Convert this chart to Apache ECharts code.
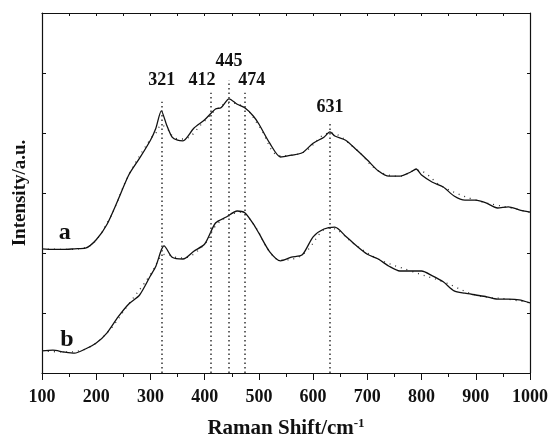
<!DOCTYPE html>
<html>
<head>
<meta charset="utf-8">
<script src="https://cdn.jsdelivr.net/npm/echarts@6/dist/echarts.min.js"></script>
<style>html,body{margin:0;padding:0;background:#fff}#c{width:550px;height:438px}</style>
</head>
<body>
<div id="c"></div>
<script>
// Raman shift (cm^-1) and intensity (a.u.)
const curveA = [[100,2.07],[120,2.06],[140,2.06],[160,2.07],[180,2.08],[200,2.22],[220,2.48],[240,2.88],[260,3.30],[280,3.58],[300,3.88],[310,4.08],[320,4.37],[330,4.13],[340,3.93],[350,3.88],[360,3.87],[380,4.08],[400,4.22],[420,4.40],[430,4.42],[445,4.57],[460,4.48],[474,4.42],[490,4.28],[500,4.15],[520,3.83],[540,3.60],[560,3.63],[580,3.67],[600,3.83],[620,3.93],[631,4.02],[640,3.95],[660,3.88],[680,3.72],[700,3.55],[720,3.37],[740,3.28],[760,3.28],[780,3.35],[790,3.40],[800,3.30],[820,3.18],[840,3.10],[860,2.95],[880,2.88],[900,2.88],[920,2.83],[940,2.75],[960,2.77],[980,2.72],[1000,2.68]];
const curveB = [[100,0.37],[120,0.38],[140,0.35],[160,0.33],[180,0.40],[200,0.50],[220,0.67],[240,0.93],[260,1.15],[280,1.30],[300,1.62],[310,1.78],[320,2.05],[325,2.12],[340,1.93],[360,1.90],[380,2.03],[400,2.15],[420,2.50],[440,2.60],[460,2.70],[474,2.67],[490,2.48],[500,2.33],[520,2.02],[540,1.87],[560,1.93],[580,1.97],[600,2.27],[620,2.40],[640,2.43],[660,2.28],[680,2.12],[700,1.98],[720,1.90],[740,1.78],[760,1.70],[780,1.70],[800,1.70],[820,1.62],[840,1.52],[860,1.37],[880,1.33],[900,1.30],[920,1.27],[940,1.23],[960,1.23],[980,1.22],[1000,1.17]];
// dotted fitted curves
const fitA = [[100,2.07],[140,2.06],[180,2.09],[220,2.50],[260,3.30],[300,3.90],[310,4.00],[320,4.13],[330,4.08],[345,3.92],[360,3.90],[400,4.20],[420,4.38],[445,4.50],[474,4.42],[500,4.12],[540,3.62],[580,3.67],[631,4.00],[680,3.72],[720,3.37],[760,3.28],[790,3.38],[840,3.10],[900,2.88],[960,2.76],[1000,2.68]];
const fitB = [[100,0.37],[140,0.35],[180,0.40],[220,0.67],[260,1.15],[300,1.64],[320,1.95],[330,1.98],[345,1.93],[360,1.92],[400,2.15],[420,2.45],[445,2.62],[465,2.68],[490,2.48],[520,2.02],[540,1.88],[580,1.97],[631,2.42],[680,2.12],[720,1.90],[780,1.70],[840,1.52],[900,1.30],[960,1.23],[1000,1.17]];
// peak markers
const peakPos = [321, 412, 445, 474, 631];
const peakTop = [4.52, 4.67, 4.88, 4.67, 4.17];
const peakLabelX = [321, 395, 445, 487, 631];
const peakLabelY = [4.87, 4.87, 5.2, 4.87, 4.42];
const peakText = ['321', '412', '445', '474', '631'];
const curveNames = [['a', 142, 2.33], ['b', 146, 0.55]];

const FONT = 'Liberation Serif';
const chart = echarts.init(document.getElementById('c'));
const txt = {fontFamily: FONT, fontWeight: 'bold', color: '#111'};

chart.setOption({
  animation: false,
  grid: {left: 42, right: 20, top: 13, bottom: 65, containLabel: false, outerBoundsMode: 'none'},
  xAxis: [{
    type: 'value', min: 100, max: 1000, interval: 100,
    axisLine: {onZero: false, lineStyle: {color: '#111', width: 1.2}},
    axisTick: {inside: false, length: 7, lineStyle: {color: '#111'}},
    minorTick: {show: true, splitNumber: 2, length: 4, lineStyle: {color: '#111'}},
    splitLine: {show: false},
    axisLabel: Object.assign({fontSize: 18, margin: 15, formatter: v => String(v)}, txt),
    name: 'Raman Shift/cm{sup|-1}', nameLocation: 'middle', nameGap: 44,
    nameTextStyle: Object.assign({fontSize: 21, rich: {sup: {fontFamily: FONT, fontWeight: 'bold', color: '#111', fontSize: 13, verticalAlign: 'top', padding: [0, 0, 10, 0]}}}, txt)
  }, {
    type: 'value', position: 'top', min: 100, max: 1000, interval: 50,
    axisLine: {show: true, onZero: false, lineStyle: {color: '#111', width: 1.2}},
    axisTick: {inside: true, length: 3, lineStyle: {color: '#111'}},
    axisLabel: {show: false}, splitLine: {show: false}
  }],
  yAxis: [{
    type: 'value', min: 0, max: 6, interval: 1,
    axisLine: {show: true, onZero: false, lineStyle: {color: '#111', width: 1.2}},
    axisTick: {show: true, inside: true, length: 4, lineStyle: {color: '#111'}},
    axisLabel: {show: false}, splitLine: {show: false},
    name: 'Intensity/a.u.', nameLocation: 'middle', nameGap: 12, nameRotate: 90,
    nameTextStyle: Object.assign({fontSize: 19}, txt)
  }, {
    type: 'value', position: 'right', min: 0, max: 6, interval: 1,
    axisLine: {show: true, onZero: false, lineStyle: {color: '#111', width: 1.2}},
    axisTick: {show: true, inside: true, length: 3, lineStyle: {color: '#111'}},
    axisLabel: {show: false}, splitLine: {show: false}
  }],
  series: [
    {type: 'line', data: fitA, showSymbol: false, smooth: 0.4, lineStyle: {color: '#333', width: 1.3, type: [1, 5]}, z: 3},
    {type: 'line', data: fitB, showSymbol: false, smooth: 0.4, lineStyle: {color: '#333', width: 1.3, type: [1, 5]}, z: 3},
    {type: 'line', data: curveA, showSymbol: false, smooth: 0.25, lineStyle: {color: '#111', width: 1.3}, z: 4},
    {type: 'line', data: curveB, showSymbol: false, smooth: 0.25, lineStyle: {color: '#111', width: 1.3}, z: 4,
      markLine: {
        silent: true, symbol: ['none', 'none'], label: {show: false},
        lineStyle: {color: '#333', type: [1.5, 3], width: 1.5},
        data: peakPos.map((p, i) => [{coord: [p, 0]}, {coord: [p, peakTop[i]]}])
      }
    },
    {type: 'scatter', symbolSize: 0, silent: true, itemStyle: {opacity: 1},
      data: peakText.map((t, i) => ({value: [peakLabelX[i], peakLabelY[i]], name: t})),
      label: Object.assign({show: true, position: 'inside', fontSize: 18, formatter: p => p.name}, txt)
    },
    {type: 'scatter', symbolSize: 0, silent: true, itemStyle: {opacity: 1},
      data: curveNames.map(c => ({value: [c[1], c[2]], name: c[0]})),
      label: Object.assign({show: true, position: 'inside', fontSize: 24, formatter: p => p.name}, txt)
    }
  ]
});
</script>
</body>
</html>
